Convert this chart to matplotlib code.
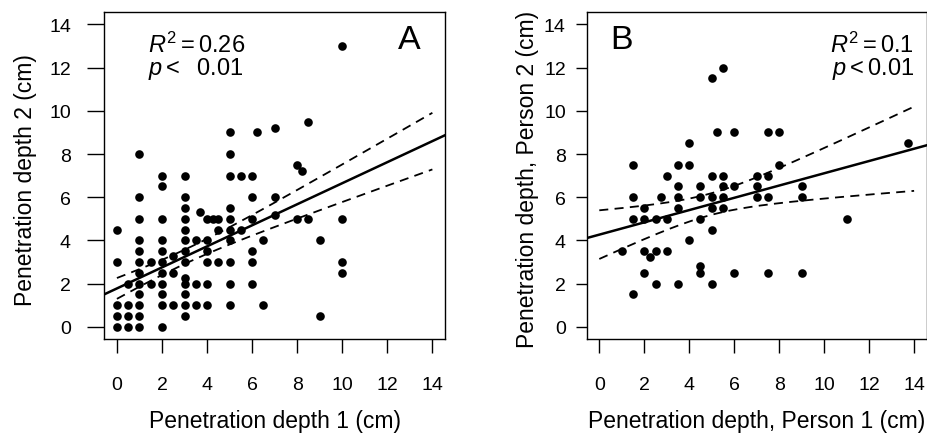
import numpy as np
import matplotlib
matplotlib.use("Agg")
import matplotlib.pyplot as plt

plt.rcParams['font.family'] = ['Liberation Sans', 'DejaVu Sans']
plt.rcParams['mathtext.fontset'] = 'custom'
plt.rcParams['mathtext.rm'] = 'Liberation Sans'
plt.rcParams['mathtext.it'] = 'Liberation Sans:italic'

# panel A: depth 1 vs depth 2 (cm)
a_x = [0, 0, 0, 0, 0,
       0.5, 0.5, 0.5, 0.5,
       1, 1, 1, 1, 1, 1, 1, 1, 1, 1, 1, 1,
       1.5, 1.5,
       2, 2, 2, 2, 2, 2, 2, 2, 2, 2, 2,
       2.5, 2.5, 2.5,
       3, 3, 3, 3, 3, 3, 3, 3, 3, 3, 3, 3, 3,
       3.5, 3.5, 3.5,
       3.7,
       4, 4, 4, 4, 4, 4,
       4.25,
       4.5, 4.5, 4.5,
       5, 5, 5, 5, 5, 5, 5, 5, 5, 5,
       5.5, 5.5,
       6, 6, 6, 6, 6, 6,
       6.2,
       6.5, 6.5,
       7, 7, 7,
       8, 8,
       8.2,
       8.5, 8.5,
       9, 9,
       10, 10, 10, 10]
a_y = [0, 0.5, 1, 3, 4.5,
       0, 0.5, 1, 2,
       0, 0.5, 1, 1.5, 2, 2.5, 3, 3.5, 4, 5, 6, 8,
       2, 3,
       0, 1, 1.5, 2, 2.5, 3, 3.5, 4, 5, 6.5, 7,
       1, 2.5, 3.3,
       0.5, 1, 1.5, 2, 2.25, 3, 3.5, 4, 4.5, 5, 5.5, 6, 7,
       1, 2, 4,
       5.3,
       1, 2, 3, 3.5, 4, 5,
       5,
       3, 4.5, 5,
       1, 2, 3, 4, 4.5, 5, 5.5, 7, 8, 9,
       4.5, 7,
       2, 3, 3.5, 5, 6, 7,
       9,
       1, 4,
       5.2, 6, 9.2,
       5, 7.5,
       7.2,
       5, 9.5,
       0.5, 4,
       2.5, 3, 5, 13]

# panel B: person 1 vs person 2 (cm)
b_x = [1,
       1.5, 1.5, 1.5, 1.5,
       2, 2, 2, 2,
       2.25,
       2.5, 2.5, 2.5,
       2.75,
       3, 3, 3,
       3.5, 3.5, 3.5, 3.5, 3.5,
       4, 4, 4,
       4.5, 4.5, 4.5, 4.5, 4.5,
       5, 5, 5, 5, 5, 5,
       5.25,
       5.5, 5.5, 5.5, 5.5, 5.5,
       6, 6, 6,
       7, 7, 7,
       7.5, 7.5, 7.5, 7.5,
       8, 8,
       9, 9, 9,
       11,
       13.75]
b_y = [3.5,
       7.5, 6, 5, 1.5,
       5.5, 5, 3.5, 2.5,
       3.25,
       5, 3.5, 2,
       6,
       7, 5, 3.5,
       7.5, 6.5, 6, 5.5, 2,
       8.5, 7.5, 4,
       6.5, 6, 5, 2.8, 2.5,
       11.5, 7, 6, 5.5, 4.5, 2,
       9,
       12, 7, 6.5, 6, 5.5,
       9, 6.5, 2.5,
       7, 6.5, 6,
       9, 7, 6, 2.5,
       9, 7.5,
       6.5, 6, 2.5,
       5,
       8.5]

# fitted line and 95% band (many points overlap,
# so the visible dots alone don't reproduce panel A's fit)
fit_a = (1.78, 0.487)          # intercept, slope
band_a = (3.04, 0.33, 1.31)    # x at narrowest, half-width there, half-width at x=14
fit_b = (4.27, 0.284)
band_b = (4.88, 0.50, 1.95)

ticks = [0, 2, 4, 6, 8, 10, 12, 14]


def draw_panel(ax, x, y, fit, band, xlabel, ylabel):
    ax.plot(x, y, 'o', color='black', ms=6.2, mec='none')
    icept, slope = fit
    mid, hmin, hend = band
    grid = np.linspace(0, 14, 200)
    k2 = (hend ** 2 - hmin ** 2) / (14 - mid) ** 2
    half = np.sqrt(hmin ** 2 + k2 * (grid - mid) ** 2)
    line = icept + slope * grid
    ax.axline((0, icept), slope=slope, color='black', lw=1.8)
    ax.plot(grid, line - half, color='black', lw=1.3, dashes=(5, 3.5))
    ax.plot(grid, line + half, color='black', lw=1.3, dashes=(5, 3.5))
    ax.set_xlim(-0.56, 14.56)
    ax.set_ylim(-0.56, 14.56)
    ax.set_xticks(ticks)
    ax.set_yticks(ticks)
    ax.tick_params(axis='x', direction='out', length=10, width=1, labelsize=14, pad=17)
    for sp in ax.spines.values():
        sp.set_linewidth(1.0)
    ax.set_xlabel(xlabel, fontsize=16.5)
    ax.set_ylabel(ylabel, fontsize=16.5)
    ax.xaxis.set_label_coords(0.5, -0.214)


fig = plt.figure(figsize=(9.28, 4.39), dpi=100)
axA = fig.add_axes([104.3 / 928, 99 / 439, 340.7 / 928, 326.7 / 439])
axB = fig.add_axes([586.7 / 928, 99 / 439, 340 / 928, 326.7 / 439])

draw_panel(axA, a_x, a_y, fit_a, band_a,
           "Penetration depth 1 (cm)", "Penetration depth 2 (cm)")
draw_panel(axB, b_x, b_y, fit_b, band_b,
           "Penetration depth, Person 1 (cm)", "Penetration depth, Person 2 (cm)")

# panel B sits its y labels closer to the axis
axA.tick_params(axis='y', direction='out', length=12, width=1, labelsize=14, pad=12)
axA.yaxis.set_label_coords(-0.198, 0.49)
axB.tick_params(axis='y', direction='out', length=8, width=1, labelsize=14, pad=7)
axB.yaxis.set_label_coords(-0.139, 0.49)

axA.text(0.129, 0.878, r'$R^2 = 0.26$', transform=axA.transAxes, fontsize=17, va='baseline')
axA.text(0.129, 0.811, r'$p <\ \ 0.01$', transform=axA.transAxes, fontsize=17, va='baseline')
axA.text(0.863, 0.89, "A", transform=axA.transAxes, fontsize=24.5, va='baseline')

axB.text(0.963, 0.878, r'$R^2 = 0.1$', transform=axB.transAxes, fontsize=17,
         va='baseline', ha='right')
axB.text(0.963, 0.811, r'$p < 0.01$', transform=axB.transAxes, fontsize=17,
         va='baseline', ha='right')
axB.text(0.0706, 0.89, "B", transform=axB.transAxes, fontsize=24.5, va='baseline')

fig.savefig("out.png", dpi=100)
plt.close(fig)
